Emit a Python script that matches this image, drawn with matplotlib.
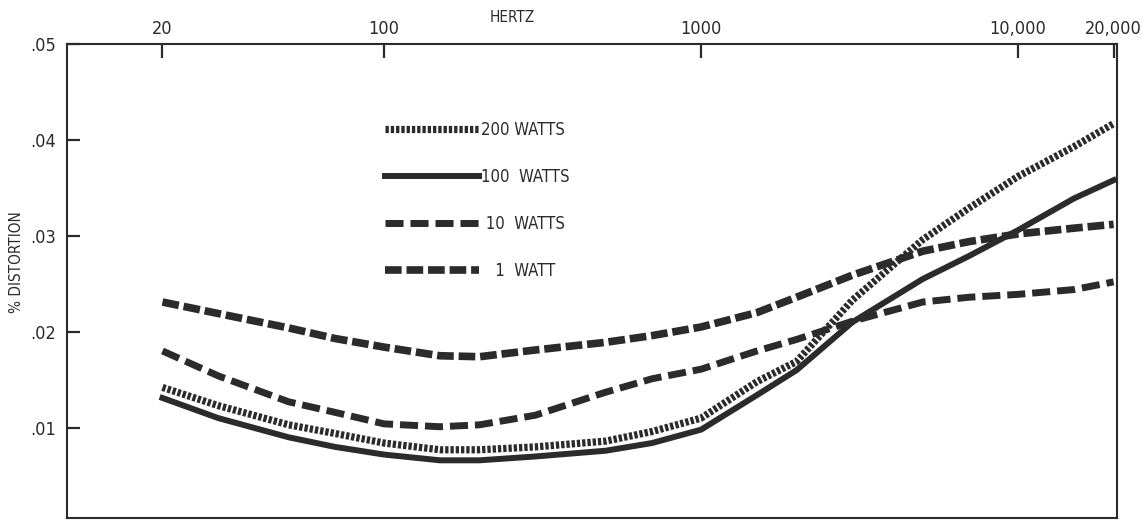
import matplotlib
matplotlib.use("Agg")
import matplotlib.pyplot as plt
from matplotlib import font_manager
from matplotlib.ticker import FixedLocator, NullLocator

# narrow lettering like the original; fall back to condensed DejaVu
names = {f.name for f in font_manager.fontManager.ttflist}
if "Liberation Sans Narrow" in names:
    plt.rcParams['font.family'] = ['Liberation Sans Narrow', 'DejaVu Sans']
else:
    plt.rcParams['font.family'] = ['DejaVu Sans']
    plt.rcParams['font.stretch'] = 'condensed'
plt.rcParams['lines.scale_dashes'] = False

#%% data
freq = [20, 30, 50, 70, 100, 150, 200, 300, 500, 700, 1000, 1500, 2000,
        3000, 5000, 7000, 10000, 15000, 20000]
w200 = [0.0142, 0.0123, 0.0103, 0.0094, 0.0084, 0.0077, 0.0077, 0.0080,
        0.0086, 0.0096, 0.0110, 0.0148, 0.0169, 0.0233, 0.0296, 0.0329,
        0.0362, 0.0393, 0.0417]
w100 = [0.0131, 0.0110, 0.0090, 0.0080, 0.0072, 0.0066, 0.0066, 0.0070,
        0.0076, 0.0084, 0.0098, 0.0134, 0.0160, 0.0210, 0.0255, 0.0279,
        0.0306, 0.0339, 0.0358]
w10 = [0.0180, 0.0154, 0.0127, 0.0116, 0.0104, 0.0101, 0.0103, 0.0113,
       0.0137, 0.0151, 0.0161, 0.0180, 0.0192, 0.0211, 0.0231, 0.0236,
       0.0239, 0.0244, 0.0252]
w1 = [0.0231, 0.0219, 0.0204, 0.0193, 0.0184, 0.0175, 0.0174, 0.0181,
      0.0189, 0.0196, 0.0205, 0.0220, 0.0236, 0.0259, 0.0284, 0.0294,
      0.0302, 0.0308, 0.0312]

xticks = [20, 100, 1000, 10000, 20000]
xticklabels = ["20", "100", "1000", "10,000", "20,000"]
yticks = [0.01, 0.02, 0.03, 0.04, 0.05]
yticklabels = [".01", ".02", ".03", ".04", ".05"]
labels = ["200 WATTS", "100  WATTS", " 10  WATTS", "   1  WATT"]

#%% figure
ink = "#2b2b2b"
fig = plt.figure(figsize=(11.46, 5.21), dpi=100)
ax = fig.add_axes([0.0585, 0.006, 0.9162, 0.9096])

kw = dict(color=ink, solid_joinstyle="round", dash_joinstyle="round")
ax.plot(freq, w200, lw=5.2, dashes=(2.4, 1.4), label=labels[0], **kw)
ax.plot(freq, w100, lw=4.3, label=labels[1], **kw)
ax.plot(freq, w10, lw=5, dashes=(13, 5), label=labels[2], **kw)
ax.plot(freq, w1, lw=5.5, dashes=(12, 3.5), label=labels[3], **kw)

ax.set_xscale("log")
ax.set_xlim(10, 20500)
ax.set_ylim(0.0006, 0.05)

ax.xaxis.tick_top()
ax.xaxis.set_major_locator(FixedLocator(xticks))
ax.xaxis.set_minor_locator(NullLocator())
ax.set_xticklabels(xticklabels)
ax.set_yticks(yticks)
ax.set_yticklabels(yticklabels)
ax.tick_params(axis="x", direction="in", length=10, width=1.6, pad=4,
               labelsize=13, colors=ink)
ax.tick_params(axis="y", direction="in", length=9, width=1.6, pad=8,
               labelsize=13, colors=ink)
for s in ax.spines.values():
    s.set_linewidth(1.5)
    s.set_color(ink)

fig.text(512 / 1146, 1 - 17 / 521, "HERTZ", ha="center", va="center",
         fontsize=11, color=ink)
fig.text(17 / 1146, 1 - 262 / 521, "% DISTORTION", ha="center", va="center",
         rotation=90, fontsize=11, color=ink)

ax.legend(loc="upper left", bbox_to_anchor=(0.303, 0.838), frameon=False,
          fontsize=12, handlelength=5.6, handletextpad=0.15,
          labelspacing=1.75, borderpad=0, borderaxespad=0, labelcolor=ink)

fig.savefig("out.png", dpi=100)
